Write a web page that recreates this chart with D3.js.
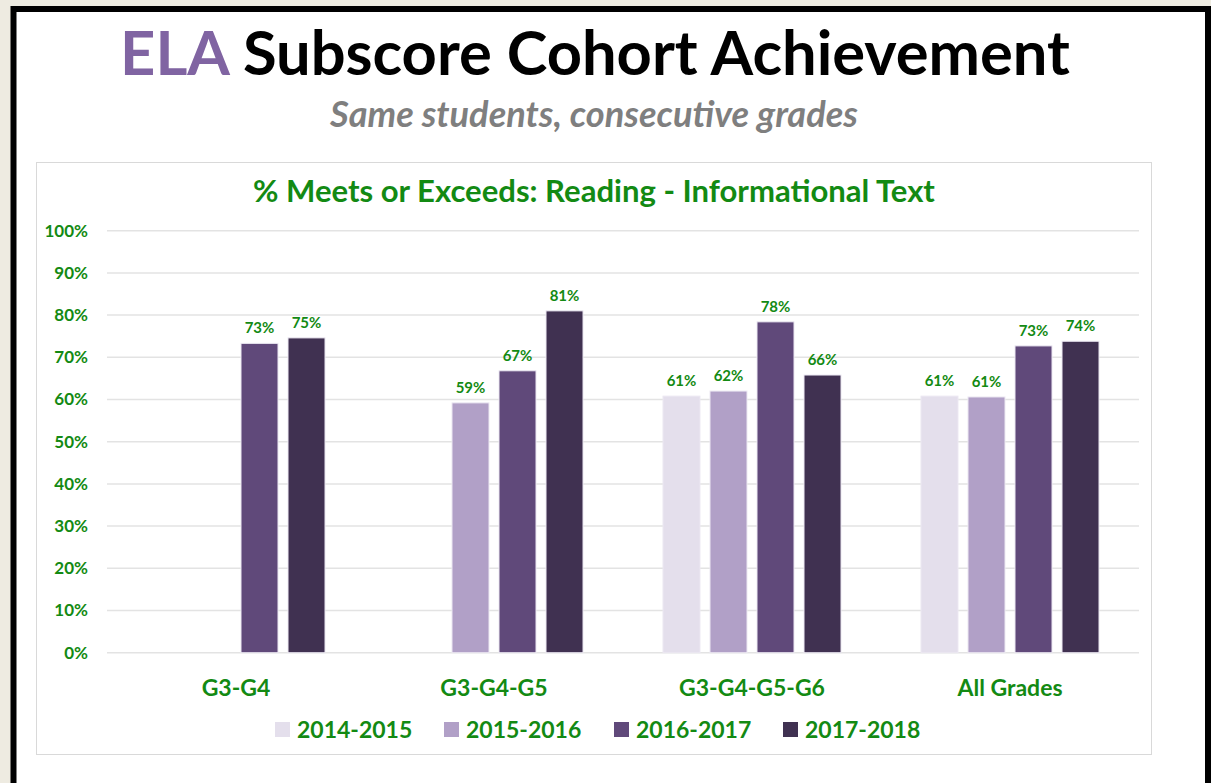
<!DOCTYPE html>
<html>
<head>
<meta charset="utf-8">
<script src="https://cdn.jsdelivr.net/npm/d3@7"></script>
<style>
  body { margin: 0; background: #eeebe1; }
  svg { display: block; }
</style>
</head>
<body>
<div id="chart"></div>
<script>
// chart data
var categories = ["G3-G4", "G3-G4-G5", "G3-G4-G5-G6", "All Grades"];
var years = ["2014-2015", "2015-2016", "2016-2017", "2017-2018"];
var v20142015 = [null, null, 60.8, 60.8];
var v20152016 = [null, 59.2, 62.0, 60.6];
var v20162017 = [73.3, 66.8, 78.4, 72.7];
var v20172018 = [74.6, 81.0, 65.8, 73.8];
var yTicks = [0, 10, 20, 30, 40, 50, 60, 70, 80, 90, 100];
var barColors = ["#e4dfec", "#b1a0c7", "#60497a", "#403151"];

var series = [v20142015, v20152016, v20162017, v20172018];

var width = 1211;
var height = 783;
var green = "#138a13";
var font = "Lato, 'Open Sans', sans-serif";

var svg = d3.select("#chart").append("svg")
    .attr("width", width)
    .attr("height", height);

// white slide with black frame
svg.append("rect")
    .attr("x", 13.5).attr("y", 9)
    .attr("width", 1194.5).attr("height", 800)
    .attr("fill", "#fff")
    .attr("stroke", "#000")
    .attr("stroke-width", 6);

// scale a text so it fills a given width
function fitText(sel, target) {
    var w = sel.node().getComputedTextLength();
    var fs = parseFloat(sel.attr("font-size"));
    sel.attr("font-size", (fs * target / w).toFixed(2) + "px");
}

// main title
var title = svg.append("text")
    .attr("x", 595).attr("y", 75)
    .attr("text-anchor", "middle")
    .attr("font-family", font)
    .attr("font-weight", "bold")
    .attr("font-size", "58px");
title.append("tspan").attr("fill", "#8064a2").text("ELA");
title.append("tspan").attr("fill", "#000").text(" Subscore Cohort Achievement");
fitText(title, 950);

var subtitle = svg.append("text")
    .attr("x", 594).attr("y", 127)
    .attr("text-anchor", "middle")
    .attr("font-family", font)
    .attr("font-weight", "bold")
    .attr("font-style", "italic")
    .attr("font-size", "28px")
    .attr("fill", "#7f7f7f")
    .text("Same students, consecutive grades");
fitText(subtitle, 528);

// chart area box
svg.append("rect")
    .attr("x", 36.5).attr("y", 162.5)
    .attr("width", 1115).attr("height", 592)
    .attr("fill", "#fff")
    .attr("stroke", "#d9d9d9")
    .attr("stroke-width", 1);

var chartTitle = svg.append("text")
    .attr("x", 594).attr("y", 202)
    .attr("text-anchor", "middle")
    .attr("font-family", font)
    .attr("font-weight", "bold")
    .attr("font-size", "25px")
    .attr("fill", green)
    .text("% Meets or Exceeds: Reading - Informational Text");
fitText(chartTitle, 682);

// scales
var x0 = d3.scaleBand()
    .domain(categories)
    .range([107, 1139])
    .paddingInner(0.31)
    .paddingOuter(0.155);

var x1 = d3.scaleBand()
    .domain(years)
    .range([0, x0.bandwidth()])
    .paddingInner(0.213);

var y = d3.scaleLinear()
    .domain([0, 100])
    .range([652.7, 230.7]);

// gridlines
svg.append("g")
    .selectAll("line")
    .data(yTicks)
    .enter()
    .append("line")
    .attr("x1", 107).attr("x2", 1139)
    .attr("y1", function(d) { return y(d); })
    .attr("y2", function(d) { return y(d); })
    .attr("stroke", "#e3e3e3")
    .attr("stroke-width", 1.5);

// y axis labels
var yAxis = d3.axisLeft(y)
    .tickValues(yTicks)
    .tickSize(0)
    .tickPadding(0)
    .tickFormat(function(d) { return d + "%"; });
var yg = svg.append("g")
    .attr("transform", "translate(88,0)")
    .call(yAxis);
yg.select(".domain").remove();
yg.selectAll("text")
    .attr("font-family", font)
    .attr("font-weight", "bold")
    .attr("font-size", "17px")
    .attr("fill", green);

// bars
var groups = svg.append("g")
    .selectAll("g")
    .data(categories)
    .enter()
    .append("g")
    .attr("transform", function(d) { return "translate(" + x0(d) + ",0)"; });

var barData = function(c, ci) {
    return years.map(function(yr, si) {
        return { year: yr, si: si, value: series[si][ci] };
    }).filter(function(d) { return d.value !== null; });
};

groups.selectAll("rect")
    .data(function(c, ci) { return barData(c, ci); })
    .enter()
    .append("rect")
    .attr("x", function(d) { return x1(d.year); })
    .attr("y", function(d) { return y(d.value); })
    .attr("width", x1.bandwidth())
    .attr("height", function(d) { return y(0) - y(d.value); })
    .attr("fill", function(d) { return barColors[d.si]; })
    .attr("stroke", "#ece8f2")
    .attr("stroke-width", 1);

groups.selectAll("text")
    .data(function(c, ci) { return barData(c, ci); })
    .enter()
    .append("text")
    .attr("x", function(d) { return x1(d.year) + x1.bandwidth() / 2; })
    .attr("y", function(d) { return y(d.value) - 10; })
    .attr("text-anchor", "middle")
    .attr("font-family", font)
    .attr("font-weight", "bold")
    .attr("font-size", "15px")
    .attr("fill", green)
    .text(function(d) { return Math.round(d.value) + "%"; });

// category labels
var xAxis = d3.axisBottom(x0).tickSize(0).tickPadding(0);
var xg = svg.append("g")
    .attr("transform", "translate(0,696)")
    .call(xAxis);
xg.select(".domain").remove();
xg.selectAll("text")
    .attr("dy", 0)
    .attr("font-family", font)
    .attr("font-weight", "bold")
    .attr("font-size", "23px")
    .attr("fill", green);

// legend
var legendX = [275, 444, 614, 783];
var legend = svg.append("g")
    .selectAll("g")
    .data(years)
    .enter()
    .append("g")
    .attr("transform", function(d, i) { return "translate(" + legendX[i] + ",722)"; });
legend.append("rect")
    .attr("width", 15).attr("height", 15)
    .attr("fill", function(d, i) { return barColors[i]; });
legend.append("text")
    .attr("x", 22).attr("y", 16)
    .attr("font-family", font)
    .attr("font-weight", "bold")
    .attr("font-size", "23px")
    .attr("fill", green)
    .text(function(d) { return d; });
</script>
</body>
</html>
